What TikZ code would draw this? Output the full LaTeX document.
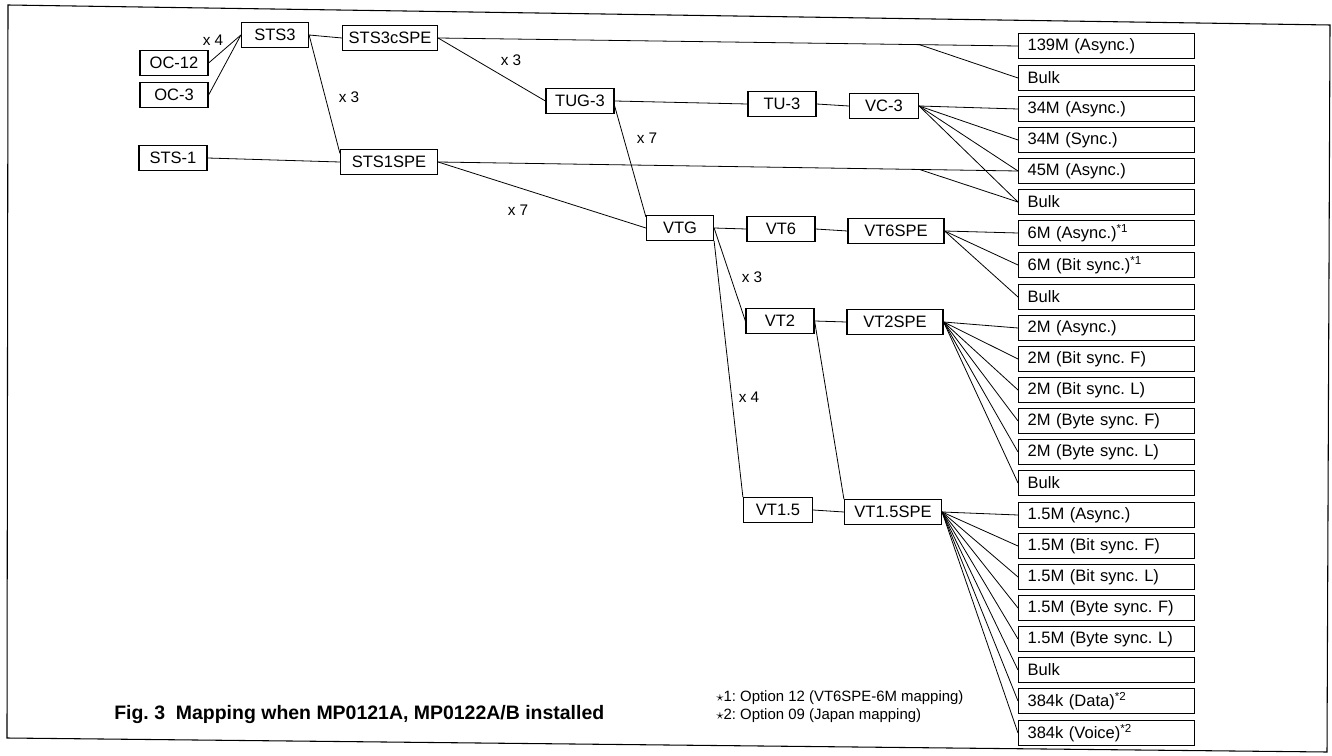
\documentclass[tikz,border=0pt]{standalone}
\usepackage{fontspec}
\setmainfont{Liberation Sans}
\usetikzlibrary{calc}
\frenchspacing
\begin{document}
\begin{tikzpicture}[x=0.75pt,y=-0.75pt,
  box/.style={draw,line width=0.9pt,minimum height=18.5pt,inner sep=0pt,font=\fontsize{12.4}{14}\selectfont},
  rbox/.style={draw,line width=0.9pt,minimum height=19pt,text width=118.5pt,inner xsep=6.75pt,inner ysep=0pt,align=left,anchor=west,font=\fontsize{12.4}{14}\selectfont},
  wire/.style={line width=0.6pt},
  mult/.style={font=\fontsize{11.5}{14}\selectfont,inner sep=0pt},
  note/.style={font=\fontsize{11.2}{14}\selectfont,inner sep=0pt,anchor=base west},
  frame/.style={line width=0.8pt}]
\useasboundingbox (0,0) rectangle (1332,756);
\draw[frame] (8,5) -- (1330,25) -- (1327,752) -- (7,738) -- cycle;

% left part
\node[box,minimum width=51pt] (OC12) at (174,63) {OC-12};
\node[box,minimum width=51pt] (OC3) at (174,95) {OC-3};
\node[box,minimum width=50.25pt] (STS3) at (275,35) {STS3};
\node[box,minimum width=71.25pt] (STS3c) at (390,38) {STS3cSPE};
\node[box,minimum width=51pt] (STS1) at (173,158) {STS-1};
\node[box,minimum width=72.75pt] (STS1SPE) at (389,162) {STS1SPE};
\node[box,minimum width=51pt] (TUG3) at (580,101) {TUG-3};
\node[box,minimum width=51pt] (TU3) at (782,104) {TU-3};
\node[box,minimum width=51.75pt] (VC3) at (884,106) {VC-3};
\node[box,minimum width=50.25pt] (VTG) at (680,228) {VTG};
\node[box,minimum width=51pt] (VT6) at (781,229) {VT6};
\node[box,minimum width=72pt] (VT6SPE) at (896,231) {VT6SPE};
\node[box,minimum width=51pt] (VT2) at (780,321) {VT2};
\node[box,minimum width=72pt] (VT2SPE) at (895,322) {VT2SPE};
\node[box,minimum width=51.75pt] (VT15) at (778,510) {VT1.5};
\node[box,minimum width=72.75pt] (VT15SPE) at (893,512) {VT1.5SPE};

% right column
\node[rbox] (r1) at (1018,46) {139M (Async.)};
\node[rbox] (r2) at (1018,78) {Bulk};
\node[rbox] (r3) at (1018,109) {34M (Async.)};
\node[rbox] (r4) at (1018,140) {34M (Sync.)};
\node[rbox] (r5) at (1018,171) {45M (Async.)};
\node[rbox] (r6) at (1018,202) {Bulk};
\node[rbox] (r7) at (1018,233) {6M (Async.)\textsuperscript{*1}};
\node[rbox] (r8) at (1018,265) {6M (Bit sync.)\textsuperscript{*1}};
\node[rbox] (r9) at (1018,297) {Bulk};
\node[rbox] (r10) at (1018,328) {2M (Async.)};
\node[rbox] (r11) at (1018,359) {2M (Bit sync. F)};
\node[rbox] (r12) at (1018,390) {2M (Bit sync. L)};
\node[rbox] (r13) at (1018,421) {2M (Byte sync. F)};
\node[rbox] (r14) at (1018,452) {2M (Byte sync. L)};
\node[rbox] (r15) at (1018,483) {Bulk};
\node[rbox] (r16) at (1018,515) {1.5M (Async.)};
\node[rbox] (r17) at (1018,546) {1.5M (Bit sync. F)};
\node[rbox] (r18) at (1018,577) {1.5M (Bit sync. L)};
\node[rbox] (r19) at (1018,608) {1.5M (Byte sync. F)};
\node[rbox] (r20) at (1018,639) {1.5M (Byte sync. L)};
\node[rbox] (r21) at (1018,670) {Bulk};
\node[rbox] (r22) at (1018,701) {384k (Data)\textsuperscript{*2}};
\node[rbox] (r23) at (1018,733) {384k (Voice)\textsuperscript{*2}};

% connectors
\draw[wire] (OC12.east) -- (STS3.west);
\draw[wire] (OC3.east) -- (STS3.west);
\draw[wire] (STS3.east) -- (STS3c.west);
\draw[wire] (STS3.east) -- (STS1SPE.170);
\draw[wire] (STS1.east) -- (STS1SPE.west);
\draw[wire] (STS3c.east) -- (r1.west);
\coordinate (b1) at ($(STS3c.east)!0.83!(r1.west)$);
\draw[wire] (b1) -- (r2.west);
\draw[wire] (STS3c.east) -- (TUG3.west);
\draw[wire] (TUG3.east) -- (TU3.west);
\draw[wire] (TU3.east) -- (VC3.west);
\draw[wire] (TUG3.-8) -- (VTG.162);
\draw[wire] (STS1SPE.east) -- (r5.west);
\coordinate (b2) at ($(STS1SPE.east)!0.83!(r5.west)$);
\draw[wire] (b2) -- (r6.west);
\draw[wire] (STS1SPE.east) -- (VTG.west);
\foreach \r in {r3,r4,r5,r6} \draw[wire] (VC3.east) -- (\r.west);
\draw[wire] (VTG.east) -- (VT6.west);
\draw[wire] (VT6.east) -- (VT6SPE.west);
\draw[wire] (VTG.east) -- (VT2.west);
\draw[wire] (VTG.south east) -- (VT15.north west);
\draw[wire] (VT2.east) -- (VT2SPE.west);
\draw[wire] (VT2.east) -- (VT15SPE.north west);
\draw[wire] (VT15.east) -- (VT15SPE.west);
\foreach \r in {r7,r8,r9} \draw[wire] (VT6SPE.east) -- (\r.west);
\foreach \r in {r10,r11,r12,r13,r14,r15} \draw[wire] (VT2SPE.east) -- (\r.west);
\foreach \r in {r16,r17,r18,r19,r20,r21,r22,r23} \draw[wire] (VT15SPE.east) -- (\r.west);

% multiplicity labels
\node[mult] (m1) at (213,40) {x 4};
\node[mult] (m2) at (349,97) {x 3};
\node[mult] (m3) at (511,60) {x 3};
\node[mult] (m4) at (647,138) {x 7};
\node[mult] (m5) at (518,210) {x 7};
\node[mult] (m6) at (752,277) {x 3};
\node[mult] (m7) at (749,397) {x 4};

% notes
\node[note] (n1) at (716,701) {$\star$1: Option 12 (VT6SPE-6M mapping)};
\node[note] (n2) at (716,719) {$\star$2: Option 09 (Japan mapping)};
\node[font=\bfseries\fontsize{14.6}{16}\selectfont,inner sep=0pt,anchor=base west] (cap) at (114,719) {Fig. 3\ \ Mapping when MP0121A, MP0122A/B installed};
\end{tikzpicture}
\end{document}
